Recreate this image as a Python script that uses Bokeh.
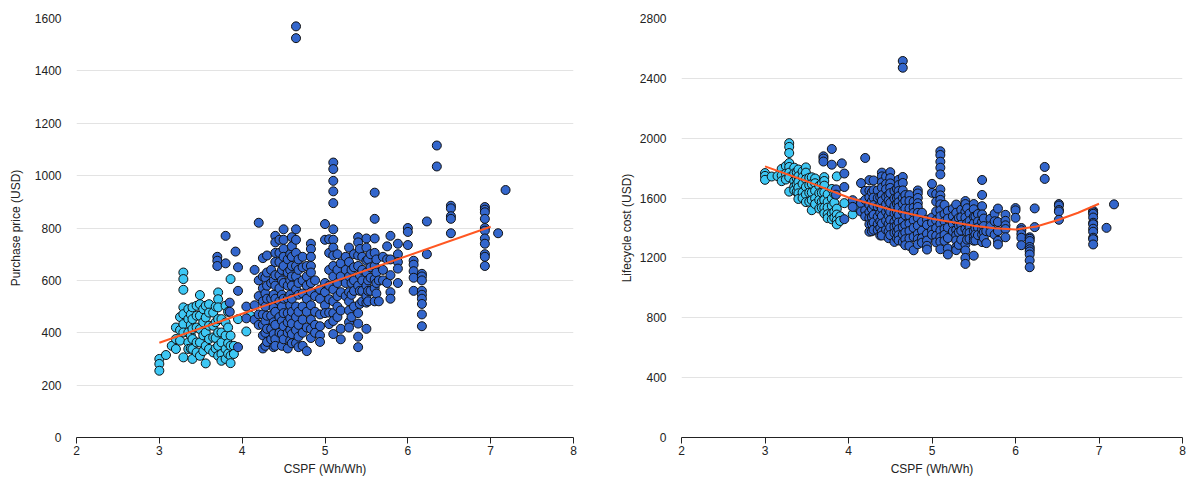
from bokeh.plotting import figure
from bokeh.layouts import row
from bokeh.models import Range1d, FixedTicker, ColumnDataSource
from bokeh.embed import file_html
from bokeh.resources import INLINE

# ---------------- data ----------------
# x = CSPF (Wh/Wh); for each CSPF column: purchase prices and lifecycle costs (USD)
light_cols = [3.0, 3.08, 3.15, 3.2, 3.25, 3.29, 3.35, 3.38, 3.4, 3.45, 3.49, 3.53,
              3.56, 3.6, 3.65, 3.68, 3.71, 3.75, 3.8, 3.83, 3.86, 3.9, 3.95, 4.05, 4.1]
light_price = [
    [300, 281, 255], [315], [350], [420, 376, 338],
    [460, 410, 370],
    [630, 605, 564, 497, 471, 433, 401, 306],
    [490, 452, 401, 363, 338],
    [470, 430, 390, 340],
    [497, 452, 414, 376, 338, 300],
    [503, 465, 420, 363, 325],
    [544, 509, 465, 414, 363, 312],
    [490, 440, 390, 330],
    [503, 458, 401, 350, 283],
    [509, 477, 427, 376, 338],
    [477, 427, 382, 325],
    [500, 440, 380, 340],
    [554, 528, 497, 452, 401, 350, 312],
    [452, 401, 363, 319, 293],
    [503, 439, 389, 338, 300],
    [480, 420, 360, 320],
    [605, 389, 350, 312, 284],
    [350, 319], [452], [405], [465],
]
light_lcc = [
    [1767, 1748, 1722], [1744], [1747], [1795, 1751, 1713],
    [1814, 1764, 1724],
    [1967, 1942, 1901, 1834, 1808, 1770, 1738, 1643],
    [1803, 1765, 1714, 1676, 1651],
    [1772, 1732, 1692, 1642],
    [1791, 1746, 1708, 1670, 1632, 1594],
    [1778, 1740, 1695, 1638, 1600],
    [1805, 1770, 1726, 1675, 1624, 1573],
    [1736, 1686, 1636, 1576],
    [1739, 1694, 1637, 1586, 1519],
    [1731, 1699, 1649, 1598, 1560],
    [1682, 1632, 1587, 1530],
    [1696, 1636, 1576, 1536],
    [1740, 1714, 1683, 1638, 1587, 1536, 1498],
    [1625, 1574, 1536, 1492, 1466],
    [1661, 1597, 1547, 1496, 1458],
    [1629, 1569, 1509, 1469],
    [1745, 1529, 1490, 1452, 1424],
    [1478, 1447], [1566], [1491], [1538],
]

dark_cols = [3.7, 3.8, 3.85, 3.92, 3.95, 4.05, 4.15, 4.2, 4.25, 4.28, 4.3, 4.35,
             4.38, 4.4, 4.45, 4.48, 4.5, 4.55, 4.58, 4.6, 4.65, 4.68, 4.73, 4.78,
             4.83, 4.88, 4.94, 5.0, 5.05, 5.1, 5.15, 5.19, 5.25, 5.29, 5.32, 5.35,
             5.4, 5.42, 5.45, 5.5, 5.52, 5.55, 5.6, 5.62, 5.65, 5.7, 5.75, 5.79,
             5.88, 6.0, 6.07, 6.17, 6.23, 6.35, 6.52, 6.93, 7.09, 7.18]
dark_price = [
    [690, 675, 655], [770, 665], [515, 480], [710], [650, 560, 345],
    [500, 455], [640, 505, 450], [820, 600, 540, 470, 430],
    [685, 615, 570, 520, 470, 430, 390, 340],
    [610, 550, 500, 445, 400, 350],
    [695, 630, 580, 530, 465, 415, 365],
    [640, 590, 530, 465, 415, 375],
    [600, 545, 495, 440, 395, 345],
    [770, 745, 705, 670, 620, 580, 530, 480, 430, 375, 350],
    [755, 705, 670, 620, 570, 520, 460, 400],
    [640, 600, 545, 500, 445, 395, 350],
    [795, 755, 720, 690, 655, 590, 530, 475, 425, 375],
    [680, 630, 580, 530, 475, 440, 400, 340],
    [700, 640, 600, 545, 505, 455, 410, 370],
    [765, 730, 690, 655, 615, 580, 530, 480, 435, 395, 360],
    [1570, 1525, 795, 755, 705, 655, 615, 565, 500, 460, 410, 360],
    [680, 640, 590, 545, 480, 430, 385, 345],
    [690, 650, 600, 550, 500, 450, 400, 350],
    [655, 615, 580, 530, 480, 420, 330],
    [740, 720, 690, 655, 630, 590, 555, 505, 450, 415, 380],
    [600, 540, 480, 430, 400],
    [565, 530, 470, 425, 390, 365],
    [815, 755, 590, 555, 505, 475],
    [757, 705, 640, 580, 528, 477, 433],
    [1050, 1025, 980, 940, 895, 795, 755, 725, 695, 655, 615, 565, 520, 475, 445, 395],
    [700, 640, 590, 540, 500, 460],
    [665, 615, 555, 485, 415, 375],
    [690, 640, 590, 540],
    [725, 670, 615, 555, 520, 485, 440, 420],
    [640, 590, 545, 460],
    [700, 650, 600, 560, 500],
    [765, 745, 695, 655, 580, 475, 435, 385, 345],
    [720, 620, 560, 510],
    [690, 640, 600, 560, 520],
    [760, 725, 675, 630, 580, 540, 515, 415],
    [680, 600, 560, 520],
    [700, 650, 610, 560],
    [935, 835, 760, 705, 655, 605, 570, 520],
    [680, 630, 590, 550],
    [600, 520], [690, 640, 600], [730, 680, 590],
    [770, 680, 620, 555, 530],
    [740, 700, 670, 645, 590],
    [800, 785, 735],
    [675, 660, 635, 610, 560],
    [625, 615, 600, 560, 545, 530, 510, 470, 425],
    [825, 700], [1115, 1035],
    [885, 875, 845, 835, 780],
    [880, 870, 860, 835, 800, 790, 760, 740, 700, 690, 655],
    [780], [945],
]
dark_lcc = [
    [1879, 1864, 1844], [1928, 1823], [1658, 1623], [1832], [1764, 1674, 1459],
    [1586, 1541], [1700, 1565, 1510], [1868, 1648, 1588, 1518, 1478],
    [1720, 1650, 1605, 1555, 1505, 1465, 1425, 1375],
    [1638, 1578, 1528, 1473, 1428, 1378],
    [1718, 1653, 1603, 1553, 1488, 1438, 1388],
    [1651, 1601, 1541, 1476, 1426, 1386],
    [1605, 1550, 1500, 1445, 1400, 1350],
    [1770, 1745, 1705, 1670, 1620, 1580, 1530, 1480, 1430, 1375, 1350],
    [1744, 1694, 1659, 1609, 1559, 1509, 1449, 1389],
    [1622, 1582, 1527, 1482, 1427, 1377, 1332],
    [1773, 1733, 1698, 1668, 1633, 1568, 1508, 1453, 1403, 1353],
    [1647, 1597, 1547, 1497, 1442, 1407, 1367, 1307],
    [1661, 1601, 1561, 1506, 1466, 1416, 1371, 1331],
    [1722, 1687, 1647, 1612, 1572, 1537, 1487, 1437, 1392, 1352, 1317],
    [2516, 2471, 1741, 1701, 1651, 1601, 1561, 1511, 1446, 1406, 1356, 1306],
    [1620, 1580, 1530, 1485, 1420, 1370, 1325, 1285],
    [1620, 1580, 1530, 1480, 1430, 1380, 1330, 1280],
    [1576, 1536, 1501, 1451, 1401, 1341, 1251],
    [1651, 1631, 1601, 1566, 1541, 1501, 1466, 1416, 1361, 1326, 1291],
    [1502, 1442, 1382, 1332, 1302],
    [1456, 1421, 1361, 1316, 1281, 1256],
    [1695, 1635, 1470, 1435, 1385, 1355],
    [1628, 1576, 1511, 1451, 1399, 1348, 1304],
    [1913, 1888, 1843, 1803, 1758, 1658, 1618, 1588, 1558, 1518, 1478, 1428, 1383, 1338, 1308, 1258],
    [1554, 1494, 1444, 1394, 1354, 1314],
    [1513, 1463, 1403, 1333, 1263, 1223],
    [1528, 1478, 1428, 1378],
    [1557, 1502, 1447, 1387, 1352, 1317, 1272, 1252],
    [1467, 1417, 1372, 1287],
    [1522, 1472, 1422, 1382, 1322],
    [1580, 1560, 1510, 1470, 1395, 1290, 1250, 1200, 1160],
    [1532, 1432, 1372, 1322],
    [1497, 1447, 1407, 1367, 1327],
    [1560, 1525, 1475, 1430, 1380, 1340, 1315, 1215],
    [1477, 1397, 1357, 1317],
    [1493, 1443, 1403, 1353],
    [1721, 1621, 1546, 1491, 1441, 1391, 1356, 1306],
    [1463, 1413, 1373, 1333],
    [1379, 1299], [1462, 1412, 1372], [1495, 1445, 1355],
    [1530, 1440, 1380, 1315, 1290],
    [1488, 1448, 1418, 1393, 1338],
    [1533, 1518, 1468],
    [1400, 1385, 1360, 1335, 1285],
    [1338, 1328, 1313, 1273, 1258, 1243, 1223, 1183, 1138],
    [1531, 1406], [1808, 1728],
    [1560, 1550, 1520, 1510, 1455],
    [1515, 1505, 1495, 1470, 1435, 1425, 1395, 1375, 1335, 1325, 1290],
    [1401], [1558],
]

# trend lines
price_trend_x = [3.0, 7.0]
price_trend_y = [362, 805]
lcc_trend_x = [3.0, 3.5, 4.0, 4.5, 5.0, 5.5, 5.75, 6.0, 6.25, 6.5, 6.75, 7.0]
lcc_trend_y = [1812, 1712, 1604, 1524, 1462, 1415, 1398, 1390, 1410, 1452, 1502, 1562]

x_ticks = [2, 3, 4, 5, 6, 7, 8]
price_ticks = [0, 200, 400, 600, 800, 1000, 1200, 1400, 1600]
lcc_ticks = [0, 400, 800, 1200, 1600, 2000, 2400, 2800]

DARK = "#3366CC"
LIGHT = "#3DC7F4"
TREND = "#FF5722"
FONT = "Liberation Sans"


def flatten(cols, vals):
    xs, ys = [], []
    for c, vs in zip(cols, vals):
        for v in vs:
            xs.append(c)
            ys.append(v)
    return xs, ys


def make_fig(w, ymax, yticks, ylabel, light_vals, dark_vals, tx, ty, bl, br, bt, title_gap):
    p = figure(width=w, height=479, x_range=Range1d(2, 8), y_range=Range1d(0, ymax),
               output_backend="svg", toolbar_location=None,
               min_border_left=bl, min_border_right=br, min_border_top=bt,
               min_border_bottom=42)
    p.outline_line_color = None
    p.background_fill_color = "white"
    p.border_fill_color = "white"
    p.xgrid.visible = False
    p.ygrid.grid_line_color = "#e3e3e3"
    p.ygrid.grid_line_width = 1

    p.xaxis.ticker = FixedTicker(ticks=x_ticks)
    p.yaxis.ticker = FixedTicker(ticks=yticks)
    p.xaxis.axis_label = "CSPF (Wh/Wh)"
    p.yaxis.axis_label = ylabel
    for ax in (p.xaxis, p.yaxis):
        ax.axis_label_text_font = FONT
        ax.axis_label_text_font_size = "12px"
        ax.axis_label_text_font_style = "normal"
        ax.axis_label_text_color = "#222222"
        ax.major_label_text_font = FONT
        ax.major_label_text_font_size = "12px"
        ax.major_label_text_color = "#222222"
        ax.minor_tick_line_color = None
    p.xaxis.axis_line_color = "#222222"
    p.xaxis.axis_line_width = 1
    p.xaxis.major_tick_line_color = "#222222"
    p.xaxis.major_tick_out = 6
    p.xaxis.major_tick_in = 0
    p.xaxis.major_label_standoff = 2
    p.xaxis.axis_label_standoff = 4
    p.yaxis.axis_line_color = None
    p.yaxis.major_tick_line_color = None
    p.yaxis.major_tick_out = 0
    p.yaxis.major_tick_in = 0
    p.yaxis.major_label_standoff = 15
    p.yaxis.axis_label_standoff = title_gap

    lx, ly = flatten(light_cols, light_vals)
    dx, dy = flatten(dark_cols, dark_vals)
    p.scatter(x="x", y="y", source=ColumnDataSource(dict(x=lx, y=ly)), size=9,
              fill_color=LIGHT, line_color="#111111", line_width=1)
    p.scatter(x="x", y="y", source=ColumnDataSource(dict(x=dx, y=dy)), size=9,
              fill_color=DARK, line_color="#111111", line_width=1)
    p.line(tx, ty, line_color=TREND, line_width=2)
    return p


p1 = make_fig(600, 1600, price_ticks, "Purchase price (USD)", light_price, dark_price,
              price_trend_x, price_trend_y, 76, 27, 17, 9)
p2 = make_fig(592, 2800, lcc_ticks, "Lifecycle cost (USD)", light_lcc, dark_lcc,
              lcc_trend_x, lcc_trend_y, 81, 10, 18, 3)

layout = row(p1, p2)
open("out.html", "w").write(file_html(layout, INLINE))
